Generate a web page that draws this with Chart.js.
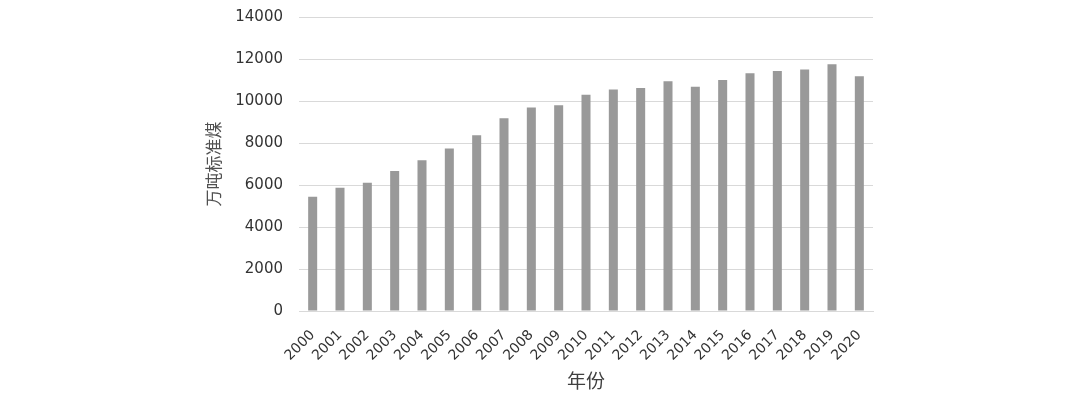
<!DOCTYPE html>
<html>
<head>
<meta charset="utf-8">
<script src="https://cdn.jsdelivr.net/npm/chart.js@4"></script>
<style>
  html, body { margin: 0; padding: 0; background: #ffffff; }
  #wrap { width: 1080px; height: 396px; position: relative; }
</style>
</head>
<body>
<div id="wrap"><canvas id="c"></canvas></div>
<script>
const categories = ["2000","2001","2002","2003","2004","2005","2006","2007","2008","2009","2010",
                    "2011","2012","2013","2014","2015","2016","2017","2018","2019","2020"];
const values = [5440, 5870, 6110, 6670, 7180, 7740, 8370, 9180, 9690, 9800, 10300,
                10550, 10620, 10940, 10680, 11000, 11320, 11430, 11500, 11750, 11180];
const yTicks = [0, 2000, 4000, 6000, 8000, 10000, 12000, 14000];
const yTitle = "万吨标准煤";
const xTitle = "年份";

new Chart(document.getElementById('c'), {
  type: 'bar',
  data: {
    labels: categories,
    datasets: [{
      data: values,
      backgroundColor: '#999999',
      borderWidth: 0,
      categoryPercentage: 1.0,
      barPercentage: 0.33
    }]
  },
  options: {
    responsive: true,
    maintainAspectRatio: false,
    animation: false,
    layout: { padding: { left: 199, right: 207, top: 0, bottom: 0 } },
    plugins: { legend: { display: false }, tooltip: { enabled: false } },
    scales: {
      x: {
        grid: { display: false, drawTicks: false },
        border: { display: true, color: '#d9d9d9', width: 1 },
        ticks: {
          color: '#333333',
          font: { family: 'DejaVu Sans', size: 14 },
          maxRotation: 45, minRotation: 45,
          padding: 16,
          autoSkip: false
        },
        title: {
          display: true, text: xTitle, color: '#404040',
          font: { family: 'Noto Sans CJK SC', size: 19 },
          padding: { top: 0, bottom: 4 }
        },
        afterFit: (s) => { s.height = 85; s.paddingLeft = 0; s.paddingRight = 0; }
      },
      y: {
        min: 0, max: 14000,
        afterBuildTicks: (axis) => { axis.ticks = yTicks.map(v => ({ value: v })); },
        grid: { color: '#d9d9d9', lineWidth: 1, drawTicks: false },
        border: { display: false },
        ticks: {
          color: '#333333',
          font: { family: 'DejaVu Sans', size: 15 },
          padding: 16,
          callback: (v) => String(v)
        },
        title: {
          display: true, text: yTitle, color: '#505050',
          font: { family: 'Noto Sans CJK SC', size: 17 },
          padding: { top: 4, bottom: 12 }
        },
        afterFit: (s) => { s.width = 100; s.paddingTop = 17; s.paddingBottom = 0; }
      }
    }
  }
});
</script>
</body>
</html>
